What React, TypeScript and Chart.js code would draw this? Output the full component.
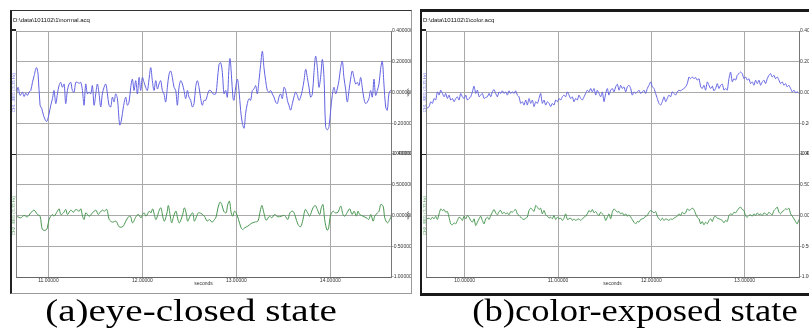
import React, { useEffect, useRef } from 'react';
import { Chart, registerables } from 'chart.js';

Chart.register(...registerables);

// ---------- text ----------
const leftFileTitle = 'D:\\data\\101102\\1\\normal.acq';
const rightFileTitle = 'D:\\data\\101102\\1\\color.acq';
const leftCaption = '(a)eye-closed state';
const rightCaption = '(b)color-exposed state';
const channel1Name = 'CH1 - EEG (.5-35 Hz)';
const channel2Name = 'CH2 - EEG (.5-35 Hz)';
const unitName = 'volts';
const timeName = 'seconds';

// ---------- ticks ----------
const leftSecondTicks = [11, 12, 13, 14];
const rightSecondTicks = [10, 11, 12, 13];
const leftRange = [10.655, 14.646];
const rightRange = [9.585, 13.583];
const topChannelTicks = [-0.4, -0.2, 0, 0.2, 0.4];
const bottomChannelTicks = [-1, -0.5, 0, 0.5, 1];

// ---------- (a) eye-closed : channel 1 ----------
const leftBlueTime = [
  10.635, 10.652, 10.677, 10.699, 10.723, 10.741, 10.759, 10.777, 10.794, 10.812,
  10.830, 10.848, 10.872, 10.890, 10.911, 10.929, 10.947, 10.979, 11.000, 11.025,
  11.043, 11.060, 11.078, 11.096, 11.113, 11.131, 11.149, 11.167, 11.184, 11.202,
  11.220, 11.238, 11.255, 11.273, 11.291, 11.309, 11.326, 11.344, 11.362, 11.379,
  11.397, 11.415, 11.433, 11.450, 11.468, 11.486, 11.504, 11.521, 11.539, 11.557,
  11.574, 11.592, 11.610, 11.628, 11.645, 11.663, 11.681, 11.699, 11.716, 11.734,
  11.759, 11.777, 11.798, 11.823, 11.840, 11.858, 11.876, 11.894, 11.911, 11.929,
  11.947, 11.965, 11.982, 12.000, 12.018, 12.035, 12.053, 12.071, 12.089, 12.106,
  12.124, 12.142, 12.160, 12.177, 12.195, 12.213, 12.230, 12.248, 12.266, 12.284,
  12.301, 12.319, 12.337, 12.355, 12.372, 12.390, 12.408, 12.426, 12.443, 12.461,
  12.479, 12.496, 12.514, 12.532, 12.550, 12.567, 12.585, 12.603, 12.621, 12.638,
  12.656, 12.674, 12.691, 12.709, 12.727, 12.752,
  12.780, 12.798, 12.816, 12.833, 12.851, 12.869, 12.887, 12.904, 12.922, 12.933,
  12.947, 12.965, 12.975, 12.993, 13.011, 13.028, 13.046, 13.064, 13.082, 13.099,
  13.117, 13.135, 13.152, 13.170, 13.188, 13.206, 13.223, 13.241, 13.259, 13.277,
  13.294, 13.312, 13.330, 13.348, 13.365, 13.383, 13.401, 13.418, 13.436, 13.454,
  13.472, 13.489, 13.507, 13.525, 13.543, 13.560, 13.578, 13.596, 13.613, 13.631,
  13.649, 13.667, 13.684, 13.702, 13.720, 13.738, 13.755, 13.773, 13.791, 13.809,
  13.826, 13.844, 13.862, 13.879, 13.897, 13.915, 13.933, 13.950, 13.968, 13.986,
  14.004, 14.021, 14.039, 14.057, 14.074, 14.092, 14.110, 14.128, 14.145, 14.163,
  14.181, 14.199, 14.216, 14.234, 14.252, 14.270, 14.287, 14.305, 14.323, 14.340,
  14.358, 14.376, 14.394, 14.411, 14.429, 14.447, 14.465, 14.482, 14.500, 14.518,
  14.535, 14.553, 14.571, 14.589, 14.606, 14.624, 14.642, 14.660,
];
const leftBlueVolts = [
  0.023, -0.030, 0.034, -0.019, 0.002, -0.026, -0.004, -0.019, 0.002, 0.013,
  0.066, 0.109, 0.162, 0.119, -0.083, -0.104, -0.147, -0.189, -0.157, -0.083,
  -0.040, 0.013, -0.072, -0.009, 0.045, 0.066, 0.034, 0.055, -0.072, 0.013,
  0.055, 0.066, 0.013, 0.002, 0.066, 0.066, 0.060, 0.066, 0.013, -0.083,
  0.055, -0.009, 0.002, -0.009, 0.045, -0.083, -0.009, 0.055, -0.009, -0.094,
  -0.009, 0.034, 0.055, -0.009, -0.083, -0.094, -0.030, -0.062, -0.009, -0.040,
  -0.211, -0.179, -0.094, -0.030, -0.083, -0.062, 0.034, 0.087, 0.013, 0.077,
  -0.009, 0.098, 0.013, 0.098, 0.066, 0.034, 0.013, 0.087, 0.162, 0.077,
  0.013, 0.077, 0.023, 0.055, 0.077, 0.013, -0.009, -0.062, 0.034, 0.119,
  0.140, 0.098, 0.034, 0.013, -0.083, 0.034, 0.077, 0.055, 0.013, -0.040,
  0.013, -0.030, -0.051, -0.094, -0.072, 0.034, 0.077, 0.034, -0.040, -0.083,
  -0.051, -0.051, -0.019, 0.013, 0.013, -0.009,
  -0.009, 0.077, 0.183, 0.194, 0.130, -0.009, 0.013, -0.030, 0.162, 0.221,
  0.119, -0.040, -0.051, 0.034, 0.087, 0.013, -0.117, -0.200, -0.232, -0.136,
  -0.072, -0.040, -0.051, 0.013, 0.023, 0.045, -0.009, 0.077, 0.183, 0.268,
  0.162, 0.077, 0.013, 0.002, 0.013, -0.009, -0.030, -0.062, -0.072, -0.030,
  -0.009, -0.040, 0.034, 0.013, -0.051, -0.083, -0.115, -0.072, -0.030, 0.002,
  -0.019, -0.051, -0.030, 0.013, 0.077, 0.151, 0.098, 0.034, -0.030, -0.009,
  0.130, 0.236, 0.162, 0.034, 0.098, 0.215, 0.098, -0.221, -0.243, -0.221,
  -0.115, -0.019, 0.034, -0.009, 0.023, 0.077, 0.162, 0.204, 0.098, 0.023,
  -0.062, 0.013, 0.087, 0.140, 0.098, 0.055, 0.066, 0.045, 0.098, 0.034,
  -0.040, -0.072, -0.062, -0.040, 0.013, -0.030, 0.087, -0.019, 0.013, 0.055,
  0.151, 0.204, 0.055, -0.094, -0.115, -0.009, 0.013, -0.009,
];

// ---------- (a) eye-closed : channel 2 ----------
const leftGreenTime = [
  10.634, 10.669, 10.705, 10.740, 10.776, 10.812, 10.847, 10.883, 10.911, 10.936,
  10.972, 10.989, 11.007, 11.043, 11.060, 11.096, 11.114, 11.132, 11.160, 11.185,
  11.203, 11.238, 11.267, 11.292, 11.327, 11.345, 11.363, 11.380, 11.398, 11.434,
  11.469, 11.505, 11.530, 11.551, 11.576, 11.594, 11.622, 11.647, 11.683, 11.718,
  11.754, 11.789, 11.807, 11.843, 11.871, 11.896, 11.931, 11.956, 11.985, 12.002,
  12.020, 12.038, 12.074, 12.091, 12.109, 12.127, 12.145, 12.180, 12.198, 12.216,
  12.234, 12.262, 12.276, 12.294, 12.312, 12.333, 12.358, 12.376, 12.394, 12.429,
  12.447, 12.465, 12.482, 12.507, 12.536, 12.553, 12.578, 12.596, 12.625, 12.660,
  12.689, 12.713, 12.742, 12.767, 12.785, 12.802, 12.827, 12.845, 12.866, 12.891,
  12.909, 12.927, 12.945, 12.962, 12.980, 12.998, 13.023, 13.051, 13.069, 13.087,
  13.122, 13.158, 13.193, 13.229, 13.254, 13.272, 13.289, 13.318, 13.353, 13.378,
  13.407, 13.442, 13.478, 13.513, 13.549, 13.570, 13.602, 13.627, 13.656, 13.684,
  13.709, 13.734, 13.762, 13.780, 13.816, 13.840, 13.862, 13.887, 13.904, 13.922,
  13.940, 13.965, 13.983, 14.000, 14.029, 14.054, 14.082, 14.111, 14.135, 14.153,
  14.182, 14.207, 14.231, 14.253, 14.278, 14.295, 14.313, 14.349, 14.384, 14.409,
  14.431, 14.456, 14.473, 14.502, 14.519, 14.537, 14.562, 14.580, 14.608, 14.633,
  14.651,
];
const leftGreenVolts = [
  -0.065, -0.022, -0.038, 0, -0.022, 0.043, 0.087, 0.016, -0.011, -0.228,
  -0.238, -0.201, -0.065, 0.016, -0.011, 0.070, 0.108, 0.016, 0.043, 0.098,
  0.016, 0.087, 0.054, 0.098, 0.070, 0.108, -0.011, -0.065, 0.043, -0.011,
  0.043, 0.087, 0.016, 0.054, 0.087, 0.070, 0.098, -0.065, -0.108, -0.092,
  -0.184, -0.184, -0.146, -0.038, -0.011, -0.119, -0.022, 0.016, -0.038, 0.016,
  0.043, -0.011, 0.070, 0.043, 0.108, 0.016, -0.065, 0.087, 0.125, -0.011,
  -0.092, 0.043, 0.163, 0.016, -0.119, -0.011, 0.070, -0.054, -0.119, 0.016,
  0.125, 0.043, -0.092, -0.011, 0.043, -0.092, -0.011, 0.043, 0.033, -0.011,
  -0.092, -0.065, -0.108, -0.065, -0.022, 0.108, 0.217, 0.179, 0.070, 0.043,
  0.179, 0.233, 0.043, -0.011, 0.070, 0.043, -0.065, -0.201, -0.228, -0.201,
  -0.173, -0.130, -0.108, -0.092, 0.070, 0.163, 0.070, -0.076, -0.011, -0.038,
  0.016, -0.022, -0.011, 0, -0.065, 0.043, 0.070, -0.011, -0.146, -0.184,
  -0.065, 0.098, 0.033, -0.011, 0.125, 0.163, 0.098, 0.016, 0.125, 0.179,
  -0.065, -0.238, -0.201, -0.011, 0.070, 0.043, 0.054, 0.152, 0.016, -0.011,
  0.054, 0.108, 0.016, 0.070, -0.011, 0.070, 0.016, -0.011, -0.038, -0.065,
  0.016, -0.092, -0.011, 0.043, 0.070, 0.179, 0.152, -0.038, -0.119, -0.065,
  0,
];

// ---------- (b) color-exposed : shared sample times ----------
const rightTime = [
  9.593, 9.618,
  9.636, 9.654, 9.671, 9.689, 9.707, 9.725, 9.743, 9.761, 9.779, 9.796,
  9.814, 9.832, 9.850, 9.868, 9.886, 9.904, 9.921, 9.939, 9.957, 9.975,
  9.993, 10.011, 10.029, 10.046, 10.064, 10.082, 10.100, 10.118, 10.136, 10.154,
  10.171, 10.189, 10.207, 10.225, 10.243, 10.261, 10.279, 10.296, 10.314, 10.332,
  10.350, 10.368, 10.386, 10.404, 10.421, 10.439, 10.457, 10.475, 10.493, 10.511,
  10.529, 10.546, 10.564, 10.582, 10.600, 10.618, 10.636, 10.654, 10.671, 10.689,
  10.707, 10.725, 10.743, 10.761, 10.779, 10.796, 10.814, 10.832, 10.850, 10.868,
  10.886, 10.904, 10.921, 10.939, 10.957, 10.975, 10.993, 11.011, 11.029, 11.046,
  11.064, 11.082, 11.100, 11.118, 11.136, 11.154, 11.171, 11.189, 11.207, 11.225,
  11.243, 11.261, 11.279, 11.296, 11.314, 11.332, 11.350, 11.368, 11.386, 11.404,
  11.421, 11.439, 11.457, 11.475, 11.493, 11.511, 11.529, 11.546, 11.564, 11.582,
  11.600, 11.618, 11.636, 11.654, 11.671, 11.689, 11.707, 11.725, 11.743, 11.761,
  11.779, 11.796, 11.814, 11.832, 11.850, 11.868, 11.886, 11.904, 11.921, 11.939,
  11.957, 11.975, 11.993, 12.011, 12.029, 12.046, 12.064, 12.082, 12.100, 12.118,
  12.136, 12.154, 12.171, 12.189, 12.207, 12.225, 12.243, 12.261, 12.279, 12.296,
  12.314, 12.332, 12.350, 12.368, 12.386, 12.404, 12.421, 12.439, 12.457, 12.475,
  12.493, 12.511, 12.529, 12.546, 12.564, 12.582, 12.600, 12.618, 12.636, 12.654,
  12.671, 12.689, 12.707, 12.725, 12.743, 12.761, 12.779, 12.796, 12.814, 12.832,
  12.850, 12.868, 12.886, 12.904, 12.921, 12.939, 12.957, 12.975, 12.993, 13.011,
  13.029, 13.046, 13.064, 13.082, 13.100, 13.118, 13.136, 13.154, 13.171, 13.189,
  13.207, 13.225, 13.243, 13.261, 13.279, 13.296, 13.314, 13.332, 13.350, 13.368,
  13.386, 13.404, 13.421, 13.439, 13.457, 13.475, 13.493, 13.511, 13.529, 13.546,
  13.564, 13.582,
];
const rightBlueVolts = [
  -0.103, -0.092,
  -0.060, -0.071, -0.039, -0.049, 0.004, -0.017, 0.015, -0.006, -0.028, -0.006,
  -0.039, -0.017, -0.049, -0.039, -0.060, -0.039, -0.028, -0.049, -0.006, -0.028,
  -0.039, -0.017, -0.049, -0.039, -0.028, 0.004, 0.041, -0.006, 0.015, -0.028,
  -0.017, -0.006, -0.039, -0.032, -0.028, -0.006, -0.028, 0.004, 0.019, -0.006,
  -0.028, 0.004, -0.006, 0.011, -0.006, 0.004, -0.017, 0.011, -0.006, 0.004,
  -0.006, 0.011, -0.017, -0.028, -0.071, -0.060, -0.082, -0.049, -0.082, -0.039,
  -0.071, -0.049, -0.092, -0.060, -0.071, -0.039, -0.006, -0.071, -0.049, -0.082,
  -0.060, -0.071, -0.092, -0.071, -0.082, -0.049, -0.060, -0.039, -0.049, -0.028,
  -0.017, -0.028, 0.004, -0.017, -0.039, -0.028, -0.060, -0.039, -0.049, -0.017,
  -0.039, -0.049, -0.028, -0.006, 0.015, 0.004, 0.026, 0.004, 0.026, -0.017,
  0.015, -0.006, -0.028, 0.004, -0.060, -0.006, 0.026, -0.017, 0.015, 0.026,
  0.004, 0.037, 0.054, 0.015, 0.047, 0.026, 0.037, 0.004, 0.037, 0.047,
  0.026, -0.017, 0.004, -0.006, 0.004, 0.015, -0.006, 0.004, 0.015, -0.006,
  0.026, 0.047, 0.069, 0.037, 0.026, -0.006, -0.039, -0.071, -0.082, -0.060,
  -0.028, -0.060, -0.039, -0.017, -0.028, 0.004, -0.006, -0.017, 0.004, 0.015,
  0.011, 0.019, 0.026, 0.037, 0.058, 0.101, 0.090, 0.101, 0.090, 0.097,
  0.080, 0.090, 0.037, 0.026, 0.047, 0.015, 0.069, 0.047, 0.026, 0.041,
  0.011, 0.026, 0.058, 0.026, 0.047, 0.054, 0.015, 0.026, 0.015, 0.090,
  0.133, 0.069, 0.090, 0.080, 0.112, 0.123, 0.133, 0.123, 0.090, 0.101,
  0.080, 0.090, 0.058, 0.069, 0.047, 0.080, 0.058, 0.080, 0.047, 0.069,
  0.080, 0.058, 0.090, 0.112, 0.123, 0.101, 0.112, 0.090, 0.101, 0.080,
  0.058, 0.069, 0.047, 0.058, 0.037, 0.047, 0.026, 0.004, 0.015, -0.002,
  0.004, -0.006,
];
const rightGreenVolts = [
  -0.054, -0.043,
  -0.065, -0.027, -0.054, -0.011, -0.065, 0.027, 0.108, 0.081, 0.098, 0.054,
  0.065, -0.027, -0.136, -0.152, -0.119, -0.136, -0.081, -0.027, -0.043, -0.081,
  -0.011, -0.054, 0, -0.027, -0.081, -0.108, -0.054, -0.163, -0.108, -0.054,
  -0.011, -0.081, -0.136, -0.054, -0.027, -0.065, 0, 0.054, 0.098, 0.043,
  0.011, 0.065, 0.081, 0.027, 0.054, 0.027, 0.043, 0.011, 0.065, 0.054,
  0.081, 0.098, 0.027, 0, -0.027, -0.054, -0.065, -0.043, -0.027, 0.081,
  0.119, 0.098, 0.065, 0.163, 0.136, 0.098, 0.119, 0.027, 0.081, 0.011,
  -0.011, -0.043, -0.027, -0.054, 0, -0.065, -0.027, -0.054, -0.043, -0.081,
  -0.043, 0.027, -0.065, -0.054, -0.043, -0.081, -0.054, -0.081, -0.065, -0.054,
  -0.081, -0.054, -0.027, -0.011, 0.027, 0.081, 0.054, 0.098, 0.043, 0.065,
  0.027, 0, 0.054, 0.027, 0, -0.081, -0.027, 0.027, -0.054, 0.054,
  0.108, 0.081, 0.054, 0.065, 0.027, 0.043, 0, 0.027, -0.011, 0.011,
  -0.027, -0.065, -0.108, -0.136, -0.098, -0.108, -0.065, -0.054, -0.043, -0.011,
  0, 0.054, 0.081, 0.065, 0.043, 0.065, -0.011, -0.054, -0.081, -0.043,
  -0.081, -0.054, -0.065, -0.081, -0.054, -0.065, -0.043, -0.027, -0.011, 0.027,
  0, 0.054, 0.027, 0.043, 0.108, 0.081, 0.098, 0.119, 0.098, 0.027,
  -0.027, -0.054, -0.136, -0.098, -0.152, -0.108, -0.136, -0.081, -0.054, -0.098,
  -0.027, -0.011, -0.043, -0.054, -0.065, -0.081, -0.119, -0.081, -0.098, 0,
  0.027, 0.011, 0.054, 0.043, 0.081, 0.119, 0.136, 0.098, 0.081, -0.011,
  -0.027, 0, 0.011, -0.011, 0.027, 0, 0.043, 0.011, 0.027, 0,
  0.043, 0.027, 0.011, 0.054, 0.027, 0.011, 0.081, 0.108, 0.136, 0.054,
  0.027, 0.065, 0.081, 0.108, 0.098, 0.119, 0.027, -0.011, -0.054, -0.098,
  -0.136, -0.065,
];

// ---------- styling ----------
const BLUE = '#6262e2';
const GREEN = '#479650';
const GRID = '#a9a9a9';
const SMALL_FONT = "'Liberation Sans', Arial, sans-serif";

const pairs = (t: number[], v: number[]) => {
  const n = Math.min(t.length, v.length);
  const out: { x: number; y: number }[] = [];
  for (let i = 0; i < n; i++) out.push({ x: t[i], y: v[i] });
  return out;
};

const decorPlugin = {
  id: 'decor',
  afterDraw(chart: any, _args: any, opts: any) {
    const { ctx, chartArea: a } = chart;
    const top = chart.scales.yTop;
    const bot = chart.scales.yBot;
    ctx.save();
    // file path
    ctx.font = `6px ${SMALL_FONT}`;
    ctx.fillStyle = '#111';
    ctx.textBaseline = 'middle';
    ctx.textAlign = 'left';
    ctx.fillText(opts.title, opts.titleX, 10);
    // left edge of the plot
    ctx.strokeStyle = '#808080';
    ctx.lineWidth = 1;
    const lx = Math.round(a.left) + 0.5;
    ctx.beginPath();
    ctx.moveTo(lx, a.top);
    ctx.lineTo(lx, a.bottom);
    ctx.stroke();
    // channel separator ticks in the left gutter
    ctx.strokeStyle = '#222';
    ctx.lineWidth = 1;
    const sep = Math.round(top.bottom) + 0.5;
    ctx.beginPath();
    ctx.moveTo(0, sep);
    ctx.lineTo(a.left, sep);
    ctx.stroke();
    ctx.lineWidth = 2;
    ctx.beginPath();
    ctx.moveTo(0, Math.round(a.top) - 1);
    ctx.lineTo(a.left, Math.round(a.top) - 1);
    ctx.stroke();
    // channel names
    const vtext = (text: string, color: string, y: number) => {
      ctx.save();
      ctx.translate(opts.labelX, y);
      ctx.rotate(-Math.PI / 2);
      ctx.fillStyle = color;
      ctx.font = `4px ${SMALL_FONT}`;
      ctx.textAlign = 'center';
      ctx.textBaseline = 'middle';
      ctx.fillText(text, 0, 0);
      ctx.restore();
    };
    vtext(channel1Name, BLUE, (top.top + top.bottom) / 2);
    vtext(channel2Name, GREEN, (bot.top + bot.bottom) / 2);
    ctx.restore();
  },
};

type PanelProps = {
  left: number;
  width: number;
  title: string;
  titleX: number;
  labelX: number;
  range: number[];
  secondTicks: number[];
  blue: { x: number; y: number }[];
  green: { x: number; y: number }[];
  tension: number;
};

function Panel(p: PanelProps) {
  const ref = useRef<HTMLCanvasElement>(null);
  useEffect(() => {
    if (!ref.current) return;
    const yScale = (ticks: number[], min: number, max: number) => ({
      type: 'linear' as const,
      position: 'right' as const,
      stack: 'channels',
      stackWeight: 1,
      min,
      max,
      afterBuildTicks: (s: any) => {
        s.ticks = ticks.map((value) => ({ value }));
      },
      afterFit: (s: any) => {
        s.width = 21;
        s.paddingTop = 0;
        s.paddingBottom = 0;
      },
      ticks: {
        font: { size: 5, family: SMALL_FONT },
        color: '#333',
        padding: 1,
        callback: (v: any) => Number(v).toFixed(6),
      },
      grid: { color: GRID, lineWidth: 1, drawTicks: false },
      border: { display: true, color: '#777' },
      title: {
        display: true,
        text: unitName,
        font: { size: 4, family: SMALL_FONT },
        color: '#333',
        padding: { top: 1.5, bottom: 0 },
      },
    });
    const chart = new Chart(ref.current, {
      type: 'line',
      data: {
        datasets: [
          {
            data: p.blue,
            yAxisID: 'yTop',
            borderColor: BLUE,
            borderWidth: 1,
            pointRadius: 0,
            tension: p.tension,
            fill: false,
          },
          {
            data: p.green,
            yAxisID: 'yBot',
            borderColor: GREEN,
            borderWidth: 1,
            pointRadius: 0,
            tension: p.tension,
            fill: false,
          },
        ],
      },
      options: {
        animation: false,
        responsive: false,
        parsing: false,
        events: [],
        layout: { padding: { left: 6, top: 21, right: 0, bottom: 0 } },
        plugins: {
          legend: { display: false },
          tooltip: { enabled: false },
          decor: { title: p.title, titleX: p.titleX, labelX: p.labelX },
        } as any,
        scales: {
          x: {
            type: 'linear',
            min: p.range[0],
            max: p.range[1],
            afterBuildTicks: (s: any) => {
              s.ticks = p.secondTicks.map((value) => ({ value }));
            },
            afterFit: (s: any) => {
              s.height = 17;
              s.paddingLeft = 0;
              s.paddingRight = 0;
            },
            ticks: {
              font: { size: 5, family: SMALL_FONT },
              color: '#333',
              padding: 1,
              maxRotation: 0,
              callback: (v: any) => Number(v).toFixed(5),
            },
            grid: { color: GRID, lineWidth: 1, drawTicks: false },
            border: { display: true, color: '#666' },
            title: {
              display: true,
              text: timeName,
              font: { size: 5, family: SMALL_FONT },
              color: '#333',
              padding: { top: 0, bottom: 7 },
            },
          },
          yTop: yScale(topChannelTicks, -0.4, 0.4),
          yBot: yScale(bottomChannelTicks, -1, 1),
        } as any,
      },
      plugins: [decorPlugin],
    });
    return () => chart.destroy();
  }, []);
  return (
    <canvas
      ref={ref}
      width={p.width}
      height={284}
      style={{ position: 'absolute', left: p.left, top: 10, width: p.width, height: 284 }}
    />
  );
}

export default function App() {
  const captionStyle: React.CSSProperties = {
    position: 'absolute',
    top: 293,
    fontFamily: "'Liberation Serif', 'Times New Roman', serif",
    fontSize: 31,
    lineHeight: '36px',
    color: '#000',
    textAlign: 'center',
    whiteSpace: 'nowrap',
    transformOrigin: '50% 50%',
  };
  return (
    <div
      style={{
        position: 'fixed',
        left: 0,
        top: 0,
        width: 809,
        height: 331,
        overflow: 'hidden',
        background: '#fff',
      }}
    >
      <Panel
        left={10}
        width={402}
        title={leftFileTitle}
        titleX={3}
        labelX={4}
        range={leftRange}
        secondTicks={leftSecondTicks}
        blue={pairs(leftBlueTime, leftBlueVolts)}
        green={pairs(leftGreenTime, leftGreenVolts)}
        tension={0.35}
      />
      <Panel
        left={420}
        width={400}
        title={rightFileTitle}
        titleX={3}
        labelX={4.5}
        range={rightRange}
        secondTicks={rightSecondTicks}
        blue={pairs(rightTime, rightBlueVolts)}
        green={pairs(rightTime, rightGreenVolts)}
        tension={0.2}
      />
      {/* window frames */}
      <div
        style={{
          position: 'absolute',
          left: 10,
          top: 10,
          width: 402,
          height: 284,
          boxSizing: 'border-box',
          borderLeft: '2px solid #222',
          borderTop: '1px solid #333',
          borderRight: '1px solid #999',
          borderBottom: '1px solid #999',
          pointerEvents: 'none',
        }}
      />
      <div
        style={{
          position: 'absolute',
          left: 420,
          top: 9,
          width: 420,
          height: 287,
          boxSizing: 'border-box',
          borderLeft: '2px solid #1a1a1a',
          borderTop: '3px solid #1a1a1a',
          borderBottom: '3px solid #1a1a1a',
          pointerEvents: 'none',
        }}
      />
      <div style={{ ...captionStyle, left: 11, width: 360, transform: 'scaleX(1.26)' }}>{leftCaption}</div>
      <div style={{ ...captionStyle, left: 455, width: 360, transform: 'scaleX(1.18)' }}>{rightCaption}</div>
    </div>
  );
}
